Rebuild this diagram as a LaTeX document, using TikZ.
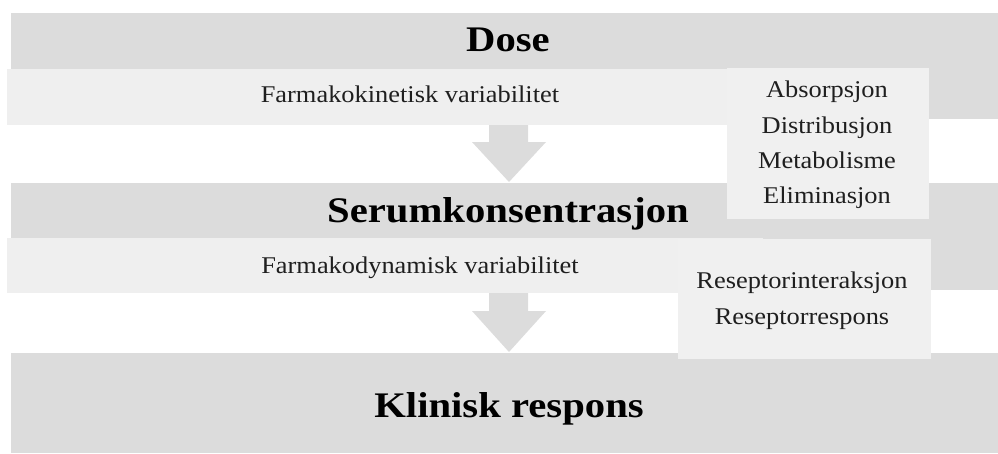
\documentclass[tikz,border=0pt]{standalone}
\usepackage{fontspec}
\setmainfont{Liberation Serif}
\newfontfamily\bodyf[FakeStretch=1.1]{Liberation Serif}
\newfontfamily\titlef[FakeStretch=1.13]{Liberation Serif}
\definecolor{band}{HTML}{DCDCDC}
\definecolor{lite}{HTML}{EFEFEF}
\definecolor{listc}{HTML}{F0F0F0}
\begin{document}
\begin{tikzpicture}[x=1pt,y=-1pt,
  bandbox/.style={fill=band,draw=none},
  litebox/.style={fill=lite,draw=none},
  listbox/.style={fill=listc,draw=none},
  arrowshape/.style={fill=band,draw=none},
  title/.style={font=\titlef\fontsize{36}{40}\selectfont\bfseries,text=black,inner sep=0pt,anchor=base},
  sub/.style={font=\bodyf\fontsize{24}{28}\selectfont,text=black!88,inner sep=0pt,anchor=base},
  item/.style={font=\bodyf\fontsize{24}{28}\selectfont,text=black!88,inner sep=0pt,anchor=base}]
\useasboundingbox (0,0) rectangle (998,453);
% bands
\path[bandbox] (11,13) rectangle (998,119);
\path[bandbox] (11,183) rectangle (998,290);
\path[bandbox] (11,353) rectangle (998,453);
% light bands
\path[litebox] (7,69) rectangle (740,125);
\path[litebox] (7,238) rectangle (763,293);
% arrows
\path[arrowshape] (489,125) -- (528,125) -- (528,142) -- (546,142) -- (509,182) -- (472,142) -- (489,142) -- cycle;
\path[arrowshape] (489,293) -- (528,293) -- (528,311) -- (546,311) -- (509,352) -- (472,311) -- (489,311) -- cycle;
% list boxes
\path[listbox] (727,68) rectangle (929,219);
\path[listbox] (678,239) rectangle (931,359);
% texts
\node[title] (dose) at (508,51) {Dose};
\node[sub] (fk) at (410,102) {Farmakokinetisk variabilitet};
\node[title] (serum) at (508,222) {Serumkonsentrasjon};
\node[sub] (fd) at (420,273) {Farmakodynamisk variabilitet};
\node[title] (klin) at (509,417) {Klinisk respons};
\node[item] (a1) at (827,97) {Absorpsjon};
\node[item] (a2) at (827,133) {Distribusjon};
\node[item] (a3) at (827,168) {Metabolisme};
\node[item] (a4) at (827,203) {Eliminasjon};
\node[item] (r1) at (802,288) {Reseptorinteraksjon};
\node[item] (r2) at (802,324) {Reseptorrespons};
\end{tikzpicture}
\end{document}
